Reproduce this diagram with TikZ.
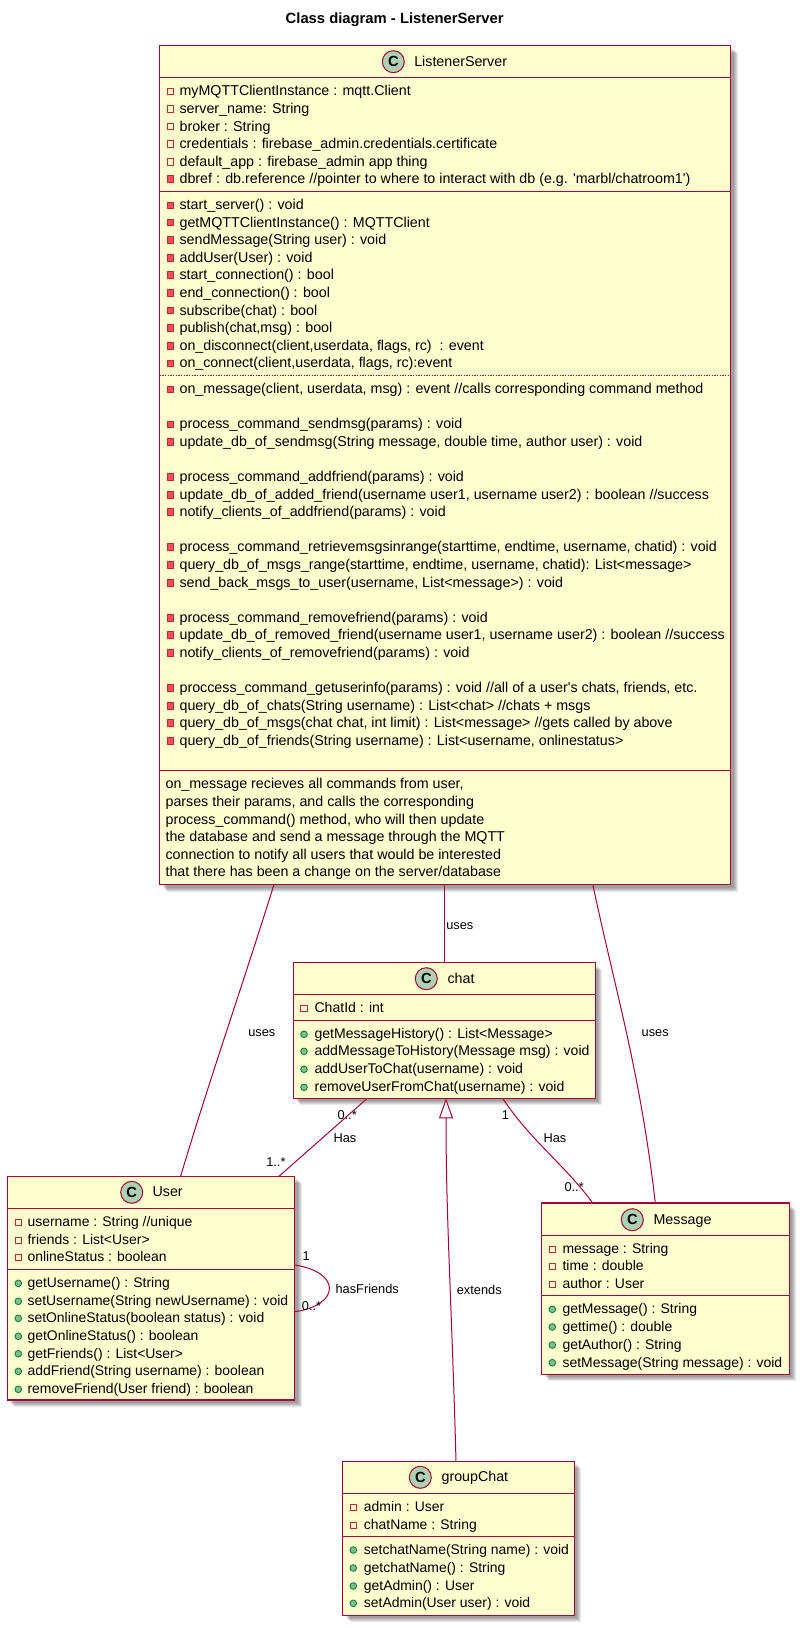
\documentclass[tikz,border=0pt]{standalone}
\usepackage{fontspec}
\setmainfont{Liberation Sans}
\usetikzlibrary{calc,fit,arrows.meta}
\definecolor{myline}{HTML}{A80036}
\definecolor{myfill}{HTML}{FEFECE}
\definecolor{mycirc}{HTML}{ADD1B2}
\definecolor{myred}{HTML}{C82930}
\definecolor{myredf}{HTML}{F24D5C}
\definecolor{mygreen}{HTML}{038048}
\definecolor{mygreenf}{HTML}{84BE84}
\newcommand{\fs}{\fontsize{10.7}{12}\selectfont}
\newcommand{\fsc}{\fontsize{10.55}{12}\selectfont}
\newcommand{\fsb}{\fontsize{10.45}{12}\selectfont}
\newcommand{\fl}{\fontsize{9.6}{12}\selectfont}
\tikzset{
  classnode/.style={draw=myline,fill=myfill,line width=0.85pt,inner sep=0pt,outer sep=0pt},
  rowtext/.style={anchor=base west,inner sep=0pt,yshift=-3.5pt,font=\fs},
  lbl/.style={anchor=base west,inner sep=0pt,yshift=-3.5pt,font=\fl},
  sep/.style={draw=myline,line width=0.75pt},
  assoc/.style={draw=myline,line width=0.75pt},
  circ/.style={circle,draw=myline,fill=mycirc,line width=0.75pt,minimum size=16.5pt,inner sep=0pt,font=\bfseries\fontsize{11}{12}\selectfont},
  pf/.style={rectangle,draw=myred,fill=myfill,line width=0.65pt,minimum size=5pt,inner sep=0pt},
  pm/.style={rectangle,draw=myred,fill=myredf,line width=0.65pt,minimum size=5pt,inner sep=0pt},
  pu/.style={circle,draw=mygreen,fill=mygreenf,line width=0.65pt,minimum size=5pt,inner sep=0pt},
}
% box with a soft shadow: name, x0, y0, x1, y1
\newcommand{\classbox}[5]{
  \foreach \s in {7,6,5,4,3}
    \fill[black,opacity=0.09] (#2+\s,#3+\s) rectangle (#4+\s,#5+\s);
  \coordinate (#1nw) at (#2,#3);
  \coordinate (#1se) at (#4,#5);
  \node[classnode,fit=(#1nw)(#1se)] (#1) {};
}
% circle with the C and the class name
\newcommand{\classhead}[5]{
  \node[circ] (#1circ) at (#2,#3) {C};
  \node[rowtext] (#1name) at (#4,#3) {#5};
}
% member rows: prefix, icon x, text x, list of y/style/text
\newcommand{\classrows}[4]{
  \foreach \y/\k/\t [count=\n] in {#4} {
    \node[\k] (#1i\n) at (#2,\y) {};
    \node[rowtext] (#1t\n) at (#3,\y) {\t};
  }
}
\begin{document}
\begin{tikzpicture}[x=0.75pt,y=-0.75pt]
\useasboundingbox (0,0) rectangle (802,1628);

\node[inner sep=0pt,font=\bfseries\fontsize{11.1}{12}\selectfont] (title) at (394.7,20) {Class diagram - ListenerServer};

\classbox{ls}{159.5}{45.5}{730.5}{884.5}
\classbox{chat}{293.3}{962.5}{595.3}{1098.3}
\classbox{user}{7.3}{1176.3}{294.7}{1400}
\classbox{msg}{541.7}{1203}{789.3}{1374.3}
\classbox{gc}{342.7}{1461.3}{574.3}{1615.3}

\foreach \y in {77.3,191.7,770.7}
    \draw[sep] (ls.west |- 0,\y) -- (ls.east |- 0,\y);
\draw[draw=myline,line width=0.5pt,dash pattern=on 1pt off 1pt] (ls.west |- 0,375.3) -- (ls.east |- 0,375.3);
\foreach \y in {994.3,1020.7}
    \draw[sep] (chat.west |- 0,\y) -- (chat.east |- 0,\y);
\foreach \y in {1208.3,1269}
    \draw[sep] (user.west |- 0,\y) -- (user.east |- 0,\y);
\foreach \y in {1235.3,1295.3}
    \draw[sep] (msg.west |- 0,\y) -- (msg.east |- 0,\y);
\foreach \y in {1493.3,1536}
    \draw[sep] (gc.west |- 0,\y) -- (gc.east |- 0,\y);

\classhead{ls}{393.3}{61.7}{414}{ListenerServer}
\classhead{chat}{426.3}{978.7}{447.3}{chat}
\classhead{user}{131.7}{1192.3}{152.3}{User}
\classhead{msg}{632.3}{1219.7}{653.3}{Message}
\classhead{gc}{420.3}{1477.3}{441.3}{groupChat}

\classrows{ls}{170.3}{179.3}{
  91.3/pf/{myMQTTClientInstance : mqtt.Client},
  109/pf/{server\_name: String},
  126.5/pf/{broker : String},
  144/pf/{credentials : firebase\_admin.credentials.certificate},
  162/pf/{default\_app : firebase\_admin app thing},
  179/pm/{dbref : db.reference //pointer to where to interact with db (e.g. \textquotesingle marbl/chatroom1\textquotesingle)},
  205.3/pm/{start\_server() : void},
  222.5/pm/{getMQTTClientInstance() : MQTTClient},
  240/pm/{sendMessage(String user) : void},
  258/pm/{addUser(User) : void},
  275/pm/{start\_connection() : bool},
  293/pm/{end\_connection() : bool},
  310.5/pm/{subscribe(chat) : bool},
  328/pm/{publish(chat,msg) : bool},
  346/pm/{on\_disconnect(client,userdata, flags, rc) ~: event},
  363.3/pm/{on\_connect(client,userdata, flags, rc):event},
  389.3/pm/{on\_message(client, userdata, msg) : event //calls corresponding command method},
  424.3/pm/{process\_command\_sendmsg(params) : void},
  442/pm/{update\_db\_of\_sendmsg(String message, double time, author user) : void},
  477/pm/{process\_command\_addfriend(params) : void},
  495/pm/{update\_db\_of\_added\_friend(username user1, username user2) : boolean //success},
  512/pm/{notify\_clients\_of\_addfriend(params) : void},
  547/pm/{process\_command\_retrievemsgsinrange(starttime, endtime, username, chatid) : void},
  565/pm/{query\_db\_of\_msgs\_range(starttime, endtime, username, chatid): List<message>},
  583/pm/{send\_back\_msgs\_to\_user(username, List<message>) : void},
  618/pm/{process\_command\_removefriend(params) : void},
  635/pm/{update\_db\_of\_removed\_friend(username user1, username user2) : boolean //success},
  653/pm/{notify\_clients\_of\_removefriend(params) : void},
  688/pm/{proccess\_command\_getuserinfo(params) : void //all of a user\textquotesingle s chats, friends, etc.},
  706/pm/{query\_db\_of\_chats(String username) : List<chat> //chats + msgs},
  723/pm/{query\_db\_of\_msgs(chat chat, int limit) : List<message> //gets called by above},
  741/pm/{query\_db\_of\_friends(String username) : List<username, onlinestatus>}
}

\foreach \y/\t [count=\n] in {
  784/{on\_message recieves all commands from user,},
  802/{parses their params, and calls the corresponding},
  820/{process\_command() method, who will then update},
  837/{the database and send a message through the MQTT},
  855/{connection to notify all users that would be interested},
  872/{that there has been a change on the server/database}}
    \node[rowtext] (note\n) at (165.3,\y) {\t};

\tikzset{rowtext/.append style={font=\fsc}}
\classrows{chat}{304}{314.3}{
  1008.3/pf/{ChatId : int},
  1034.3/pu/{getMessageHistory() : List<Message>},
  1051.3/pu/{addMessageToHistory(Message msg) : void},
  1069.3/pu/{addUserToChat(username) : void},
  1087.3/pu/{removeUserFromChat(username) : void}
}

\tikzset{rowtext/.append style={font=\fsb}}
\classrows{user}{18.3}{27.3}{
  1222.3/pf/{username : String //unique},
  1240.3/pf/{friends : List<User>},
  1257.3/pf/{onlineStatus : boolean},
  1283.3/pu/{getUsername() : String},
  1301.3/pu/{setUsername(String newUsername) : void},
  1318.3/pu/{setOnlineStatus(boolean status) : void},
  1336.3/pu/{getOnlineStatus() : boolean},
  1353.7/pu/{getFriends() : List<User>},
  1371.3/pu/{addFriend(String username) : boolean},
  1389.3/pu/{removeFriend(User friend) : boolean}
}

\classrows{msg}{552.3}{562.3}{
  1249.3/pf/{message : String},
  1266.3/pf/{time : double},
  1284.3/pf/{author : User},
  1309.3/pu/{getMessage() : String},
  1327/pu/{gettime() : double},
  1345/pu/{getAuthor() : String},
  1362.7/pu/{setMessage(String message) : void}
}

\classrows{gc}{353.3}{363.7}{
  1507.3/pf/{admin : User},
  1525.3/pf/{chatName : String},
  1550/pu/{setchatName(String name) : void},
  1568/pu/{getchatName() : String},
  1586/pu/{getAdmin() : User},
  1603.3/pu/{setAdmin(User user) : void}
}

% connectors
\draw[assoc] ($(ls.south west)+(114.5,0)$) .. controls (241,990) and (210,1078) .. ($(user.north west)+(173.3,0)$);
\draw[assoc] (ls.south -| chat.north) -- (chat.north);
\draw[assoc] ($(ls.south west)+(433.3,0)$) .. controls (615,990) and (640,1070) .. ($(msg.north west)+(113.6,0)$);
\draw[assoc] ($(chat.south west)+(74,0)$) -- ($(user.north west)+(271.7,0)$);
\draw[assoc] ($(chat.south west)+(209.4,0)$) .. controls (530,1140) and (565,1165) .. ($(msg.north west)+(51,0)$);
\draw[assoc,-{Triangle[open,fill=white,length=15pt,width=10.5pt]}] ($(gc.north west)+(113.3,0)$) .. controls (452,1310) and (446,1220) .. ($(chat.south west)+(152.7,0)$);
\draw[assoc] ($(user.north east)+(0,88.7)$) .. controls (341,1272) and (341,1305) .. ($(user.north east)+(0,135.4)$);

% labels
\node[lbl] (usesuser) at (248,1032) {uses};
\node[lbl] (useschat) at (446,925) {uses};
\node[lbl] (usesmsg) at (641.4,1032) {uses};
\node[lbl] (hasuser) at (333.3,1138) {Has};
\node[lbl] (hasmsg) at (543.3,1138) {Has};
\node[lbl] (mchat) at (337.3,1115) {0..*};
\node[lbl] (muser) at (266,1161.7) {1..*};
\node[lbl] (mchatb) at (501.7,1115) {1};
\node[lbl] (mmsg) at (564.3,1187.3) {0..*};
\node[lbl] (mloopa) at (302.3,1255.7) {1};
\node[lbl] (mloopb) at (301.7,1306) {0..*};
\node[lbl] (hasfr) at (335.3,1289.3) {hasFriends};
\node[lbl] (ext) at (456.6,1290) {extends};
\end{tikzpicture}
\end{document}
